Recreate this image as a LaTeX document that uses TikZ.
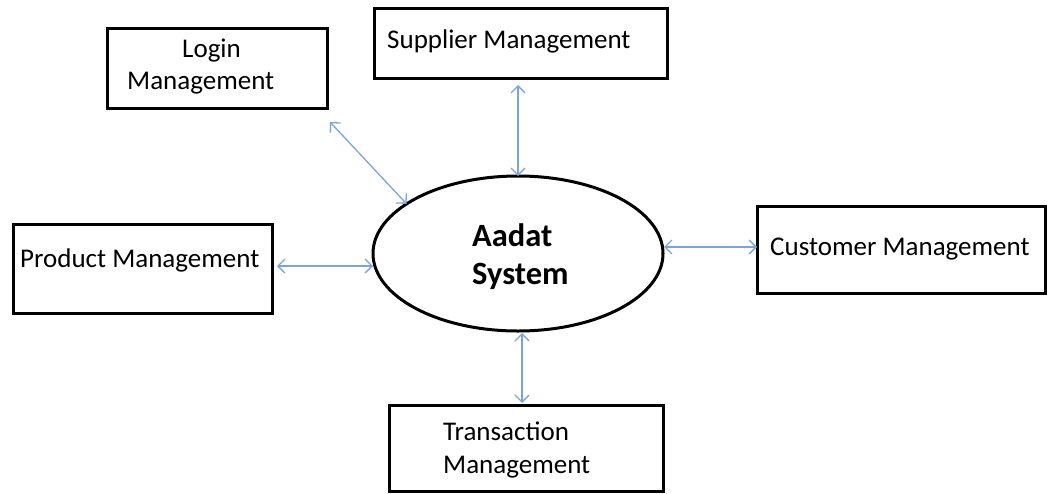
\documentclass[tikz,border=0pt]{standalone}
\usepackage{fontspec}
\setmainfont{Carlito}
\usetikzlibrary{shapes.geometric,arrows.meta}
\definecolor{arrowblue}{RGB}{126,164,214}
\tikzset{
  box/.style={draw=black, line width=3pt, rectangle, inner sep=0pt, outer sep=0pt},
  txt/.style={anchor=base west, inner sep=0pt, font=\fontsize{27}{32}\selectfont},
  btxt/.style={anchor=base west, inner sep=0pt, font=\fontsize{32.5}{38}\selectfont\bfseries},
  conn/.style={draw=arrowblue, line width=1.3pt,
    {Straight Barb[length=7pt,width=14pt]}-{Straight Barb[length=7pt,width=14pt]}}
}
\begin{document}
\begin{tikzpicture}[x=1pt,y=-1pt]
\useasboundingbox[fill=white] (0,0) rectangle (1048,493);
% boxes
\node[box, minimum width=220, minimum height=80] (login) at (217,68) {};
\node[box, minimum width=293, minimum height=70] (supplier) at (520.5,43) {};
\node[box, minimum width=259, minimum height=89] (product) at (142.5,268.5) {};
\node[box, minimum width=288, minimum height=87] (customer) at (901,249.5) {};
\node[box, minimum width=274, minimum height=86] (trans) at (526,448) {};
\node[draw=black, line width=3pt, ellipse, inner sep=0pt, outer sep=0pt,
      minimum width=290, minimum height=155] (sys) at (518,253.5) {};
% texts
\node[txt] (loginA) at (182,57) {Login};
\node[txt] (loginB) at (127,89) {Management};
\node[txt] (supT) at (387,48) {Supplier Management};
\node[txt] (prodT) at (20,267) {Product Management};
\node[txt] (custT) at (770,255) {Customer Management};
\node[txt] (transA) at (443,440) {Transaction};
\node[txt] (transB) at (443,473) {Management};
\node[btxt] (sysA) at (472,246) {Aadat};
\node[btxt] (sysB) at (472,284) {System};
% connectors
\draw[conn] ([shift={(3,14)}]login.south east) -- (sys.156);
\draw[conn, shorten <=7pt] (supplier.south -| sys.north) -- (sys.north);
\coordinate (pA) at ([shift={(5,-2.5)}]product.east);
\draw[conn] (pA) -- (sys.west |- pA);
\coordinate (cA) at ([shift={(0,-2.5)}]customer.west);
\draw[conn, shorten <=1pt] (sys.east |- cA) -- (cA);
\draw[conn, shorten <=2pt, shorten >=2pt] ([shift={(4,0)}]sys.south) -- ([shift={(-4,0)}]trans.north);
\end{tikzpicture}
\end{document}
